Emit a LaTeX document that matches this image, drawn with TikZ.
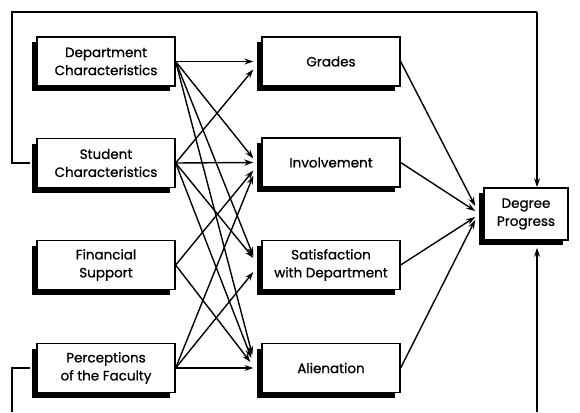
\documentclass[tikz,border=0pt]{standalone}
\usepackage{fontspec}
\setmainfont{Poppins}[FakeBold=0.8]
\usetikzlibrary{arrows.meta,shadows}
\begin{document}
\begin{tikzpicture}[x=1pt,y=-1pt,
  box/.style={draw=black,line width=1.3pt,fill=white,inner sep=0pt,
    minimum width=138pt,minimum height=49pt,align=center,
    font=\fontsize{13.5}{18}\selectfont,
    general shadow={fill=black,shadow xshift=-5pt,shadow yshift=-5pt}},
  mbox/.style={box,minimum width=138pt},
  arr/.style={line width=1.4pt,-{Stealth[length=9pt,width=6pt]}},
  loop/.style={line width=1.1pt}]
\useasboundingbox (0,0) rectangle (580,412);
% left column
\node[box] (D) at (106,61.5) {Department\\Characteristics};
\node[box] (S) at (106,163) {Student\\Characteristics};
\node[box] (F) at (106,265) {Financial\\Support};
\node[box] (P) at (106,368) {Perceptions\\of the Faculty};
% middle column
\node[mbox] (G) at (331,61.5) {Grades};
\node[mbox] (I) at (331,162.5) {Involvement};
\node[mbox] (A) at (331,265) {Satisfaction\\with Department};
\node[mbox] (L) at (331,368) {Alienation};
% degree progress
\node[box,minimum width=84pt,minimum height=52pt,line width=1.6pt] (Y) at (526,214) {Degree\\Progress};
% left -> middle
\draw[arr] (D.east) -- ([xshift=-8pt,yshift=0pt]G.west);
\draw[arr] (D.east) -- ([xshift=-8pt,yshift=4pt]I.west);
\draw[arr] (D.east) -- ([xshift=-8pt,yshift=9pt]A.west);
\draw[arr] (D.east) -- ([xshift=-9pt,yshift=13pt]L.west);
\draw[arr] (S.east) -- ([xshift=-8pt,yshift=-8pt]G.west);
\draw[arr] (S.east) -- ([xshift=-8pt,yshift=0pt]I.west);
\draw[arr] (S.east) -- ([xshift=-8pt,yshift=7pt]A.west);
\draw[arr] (S.east) -- ([xshift=-10pt,yshift=10pt]L.west);
\draw[arr] (F.east) -- ([xshift=-8pt,yshift=-8pt]I.west);
\draw[arr] (F.east) -- ([xshift=-11pt,yshift=6pt]L.west);
\draw[arr] (P.east) -- ([xshift=-8pt,yshift=-13pt]I.west);
\draw[arr] (P.east) -- ([xshift=-8pt,yshift=-7pt]A.west);
\draw[arr] (P.east) -- ([xshift=-8pt,yshift=0pt]L.west);
% middle -> degree
\draw[arr] (G.east) -- ([xshift=-8pt,yshift=8pt]Y.west);
\draw[arr] (I.east) -- ([xshift=-8pt,yshift=3pt]Y.west);
\draw[arr] (A.east) -- ([xshift=-8pt,yshift=-3pt]Y.west);
\draw[arr] (L.east) -- ([xshift=-8pt,yshift=-6pt]Y.west);
% loops
\coordinate (t1) at (12,12);
\coordinate (t2) at (537,12);
\coordinate (b1) at (12,412);
\coordinate (b2) at (537,412);
\draw[loop] ([xshift=-6pt]S.west) -| (t1) -- (t2);
\draw[loop,-{Stealth[length=9pt,width=6pt]}] (t2) -- ([xshift=11pt]Y.north);
\draw[loop] ([xshift=-6pt]P.west) -| (b1);
\draw[loop,-{Stealth[length=9pt,width=6pt]}] (b2) -- ([xshift=11pt,yshift=-7pt]Y.south);
\end{tikzpicture}
\end{document}
